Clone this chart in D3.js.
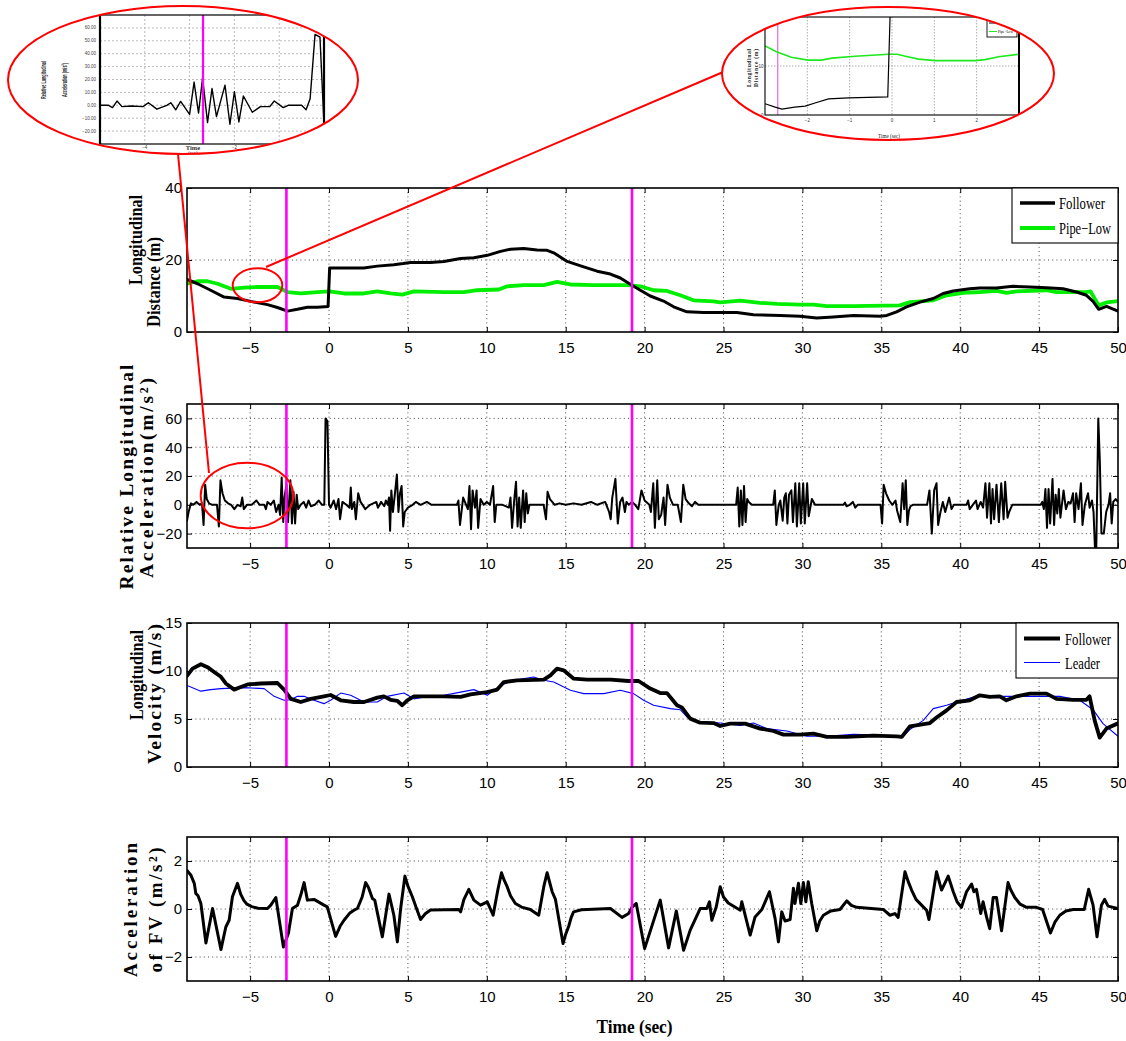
<!DOCTYPE html>
<html><head><meta charset="utf-8">
<script src="https://cdn.jsdelivr.net/npm/d3@7"></script>
<style>body{margin:0;background:#fff}</style>
</head><body>
<script>
// ================= DATA =================
const xTicks = [-5,0,5,10,15,20,25,30,35,40,45,50];
const markerTimes = [-2.7, 19.2];
const distTicks = [0,20,40];
const relTicks = [-20,0,20,40,60];
const velTicks = [0,5,10,15];
const accTicks = [-2,0,2];

const distFollower = [[-9,14.6],[-8.33,13.4],[-7.5,11.6],[-6.65,9.7],[-5.8,9.3],[-4.96,8.5],[-3.9,7.6],[-3.27,6.8],[-2.63,5.8],[-2.0,6.3],[-1.37,6.9],[-0.73,6.9],[-0.06,7.1],[0.04,17.8],[0.95,17.8],[2.2,17.8],[3.06,18.3],[4.11,18.7],[4.7,19.0],[5.17,19.3],[6.43,19.3],[7.28,19.6],[8.34,20.4],[9.18,20.6],[10.03,21.3],[10.87,22.4],[11.5,23.0],[12.34,23.2],[13.19,22.8],[13.82,22.7],[14.24,22.0],[15.09,19.6],[16.14,18.1],[16.99,16.9],[17.83,16.1],[18.46,15.0],[19.2,13.0],[19.73,11.6],[20.36,10.0],[21.2,8.6],[21.84,7.0],[22.68,5.6],[23.73,5.4],[25.85,5.4],[26.9,4.8],[28.59,4.6],[29.85,4.4],[30.91,3.9],[31.96,4.2],[33.23,4.6],[34.92,4.4],[35.35,4.6],[35.97,5.6],[36.6,7.0],[37.45,8.3],[38.29,9.3],[38.92,10.7],[39.56,11.4],[40.6,12.0],[41.24,12.2],[42.3,12.2],[43.35,12.7],[44.41,12.5],[45.47,12.3],[46.52,12.0],[47.37,11.1],[48.0,10.2],[48.42,8.5],[48.78,6.3],[49.27,7.1],[50,5.8]];

const distPipeLow = [[-9,13.4],[-8.33,14.1],[-7.7,14.1],[-7.06,13.4],[-6.22,12.0],[-5.38,12.3],[-4.53,12.5],[-3.27,12.5],[-2.63,11.1],[-1.79,10.7],[-0.73,11.1],[0,11.3],[0.95,10.7],[2.2,10.7],[3.06,11.3],[3.9,10.7],[4.64,10.4],[5.38,11.3],[7.28,11.1],[8.55,11.1],[9.39,11.6],[10.76,11.8],[11.29,12.7],[12.34,13.0],[13.61,13.0],[14.45,13.9],[15.3,13.2],[16.77,13.0],[18.99,13.0],[19.73,12.7],[20.57,11.6],[21.42,11.4],[22.26,10.2],[23.1,8.8],[24.37,8.5],[24.79,8.2],[26.06,8.7],[27.32,8.1],[28.38,7.8],[29.85,7.6],[30.7,7.6],[31.54,7.2],[33.23,7.2],[36.18,7.4],[36.81,8.3],[38.29,8.8],[39.14,10.2],[40.19,10.9],[41.24,11.1],[42.3,11.4],[42.93,10.9],[43.57,11.3],[45.47,11.6],[46.1,11.1],[48.0,11.1],[48.25,11.3],[48.78,7.4],[49.27,8.2],[50,8.6]];

const relAccel = [[-9,-11],[-8.9,-5],[-8.75,1],[-8.6,0],[-8.4,2],[-8.2,0],[-8.05,1],[-7.95,-14],[-7.85,14],[-7.75,4],[-7.6,1],[-7.4,0],[-7.1,0],[-6.98,-15],[-6.88,17],[-6.75,8],[-6.6,3],[-6.4,1],[-6.2,0],[-6.0,-3],[-5.8,0],[-5.6,-1],[-5.5,5],[-5.4,-3],[-5.2,0],[-4.9,0],[-4.6,3],[-4.4,0],[-4.1,0],[-4.0,-3],[-3.9,2],[-3.7,0],[-3.5,3],[-3.35,-5],[-3.2,0],[-3.1,-7],[-3.0,19],[-2.9,-12],[-2.82,5],[-2.7,14],[-2.6,-12],[-2.45,17],[-2.35,-13],[-2.25,9],[-2.15,-13],[-2.05,7],[-1.95,-3],[-1.8,0],[-1.6,2],[-1.45,-2],[-1.3,3],[-1.15,-1],[-0.9,0],[-0.65,3],[-0.45,0],[-0.3,0],[-0.22,60],[-0.1,58],[0.0,0],[0.1,-2],[0.3,3],[0.45,-3],[0.6,4],[0.7,-10],[0.85,2],[1.1,0],[1.3,-2],[1.38,12],[1.45,-3],[1.6,2],[1.7,-10],[1.85,8],[2.0,2],[2.3,-3],[2.6,0],[3.0,2],[3.1,-2],[3.3,2],[3.5,-1],[3.6,3],[3.72,0],[3.8,5],[3.87,-18],[3.95,10],[4.05,-5],[4.15,5],[4.3,21],[4.4,-5],[4.5,8],[4.6,13],[4.7,-15],[4.8,-5],[5.0,-2],[5.3,0],[5.5,2],[5.8,0],[6.2,2],[6.5,0],[8.1,0],[8.2,3],[8.3,-14],[8.5,5],[8.8,-3],[8.9,13],[9.0,-17],[9.1,10],[9.25,-2],[9.35,10],[9.45,-16],[9.6,4],[9.8,0],[10.0,2],[10.2,0],[10.4,13],[10.5,-12],[10.6,0],[11.0,0],[11.4,-2],[11.5,5],[11.6,-16],[11.75,5],[11.85,16],[11.95,-15],[12.05,5],[12.15,-16],[12.3,10],[12.4,-12],[12.5,8],[12.6,-6],[12.7,0],[13.6,0],[13.75,-10],[13.85,9],[14.0,4],[14.3,0],[14.6,1],[15.0,0],[15.5,1],[16.0,0],[16.6,2],[17.0,0],[17.5,2],[17.75,-5],[17.85,-10],[17.95,5],[18.15,18],[18.3,-13],[18.45,2],[18.6,5],[18.75,-5],[18.85,2],[19.0,0],[19.2,2],[19.4,0],[19.6,-3],[19.8,10],[20.0,3],[20.3,0],[20.4,-5],[20.55,15],[20.65,-16],[20.8,17],[20.9,-10],[21.05,-7],[21.2,5],[21.3,-14],[21.45,14],[21.6,5],[21.8,0],[22.1,0],[22.3,-12],[22.45,14],[22.6,4],[22.8,1],[23.0,-1],[23.2,2],[23.4,0],[25.8,0],[25.9,12],[26.0,-15],[26.1,10],[26.2,-14],[26.3,13],[26.4,-12],[26.5,4],[26.6,2],[26.8,0],[28.15,0],[28.25,10],[28.35,-14],[28.5,0],[28.6,3],[28.75,-11],[28.85,5],[28.95,8],[29.05,-13],[29.15,7],[29.3,10],[29.4,-12],[29.55,15],[29.65,-15],[29.8,15],[29.9,-13],[30.05,15],[30.15,-13],[30.3,15],[30.4,-8],[30.6,4],[30.8,0],[32.6,0],[32.7,1.5],[32.8,-1],[33.0,0],[33.2,2],[33.35,-2],[33.5,0],[34.95,0],[35.05,-13],[35.15,14],[35.3,8],[35.5,3],[35.7,0],[35.9,3],[36.0,-4],[36.2,-12],[36.35,15],[36.45,-3],[36.55,17],[36.65,-14],[36.75,-4],[36.85,-1],[37.0,0],[37.9,0],[38.05,10],[38.2,-20],[38.35,10],[38.5,15],[38.6,-14],[38.75,-5],[38.9,2],[39.05,-5],[39.3,5],[39.45,-3],[39.6,0],[40.4,0],[40.5,3],[40.6,-3],[40.8,0],[41.0,3],[41.1,-3],[41.3,2],[41.45,-2],[41.6,15],[41.7,-9],[41.85,15],[41.95,-13],[42.05,11],[42.15,-10],[42.3,14],[42.45,-12],[42.6,15],[42.75,-10],[42.85,16],[43.0,-9],[43.1,-5],[43.3,0],[45.1,0],[45.2,2],[45.3,-3],[45.4,11],[45.5,-16],[45.6,11],[45.7,-13],[45.85,18],[45.95,-14],[46.05,7],[46.15,-6],[46.25,11],[46.35,-9],[46.55,10],[46.7,-3],[46.85,2],[47.0,1],[47.15,8],[47.25,-12],[47.35,8],[47.5,-3],[47.65,15],[47.75,-14],[47.9,0],[48.1,8],[48.2,-2],[48.35,3],[48.45,-5],[48.55,-33],[48.62,-33],[48.75,60],[48.85,30],[48.95,-20],[49.1,-20],[49.25,-5],[49.4,0],[49.5,8],[49.6,-13],[49.7,2],[49.85,4],[50,2]];

const velFollower = [[-9,9.5],[-8.65,10.25],[-8.12,10.7],[-7.7,10.4],[-7.28,9.9],[-6.85,9.4],[-6.54,8.7],[-6.01,8.06],[-5.59,8.33],[-5.16,8.6],[-4.32,8.7],[-3.27,8.75],[-2.85,8.06],[-2.42,7.1],[-1.79,6.77],[-1.16,7.1],[-0.32,7.36],[0.1,7.5],[0.74,6.95],[1.58,6.77],[2.22,6.77],[3.06,7.23],[3.48,7.36],[3.9,7.0],[4.32,6.9],[4.64,6.43],[4.96,6.95],[5.38,7.36],[6.43,7.36],[7.28,7.36],[8.34,7.3],[8.97,7.57],[10.03,7.8],[10.66,8.06],[11.08,8.85],[11.92,9.03],[13.61,9.1],[14.03,9.55],[14.45,10.25],[14.87,10.07],[15.51,9.2],[16.35,9.1],[17.83,9.1],[18.99,8.96],[19.62,8.96],[20.36,8.17],[20.99,7.7],[21.42,7.7],[22.05,6.43],[22.36,6.2],[22.89,5.04],[23.52,4.62],[24.37,4.58],[24.79,4.27],[25.42,4.52],[26.37,4.52],[27.32,4.0],[28.16,3.75],[28.8,3.37],[29.85,3.37],[30.7,3.48],[31.54,3.13],[32.81,3.13],[34.49,3.27],[35.97,3.2],[36.3,3.13],[36.81,4.24],[38.08,4.58],[38.5,5.15],[39.14,5.9],[39.77,6.77],[40.61,6.95],[41.24,7.47],[41.88,7.3],[42.51,7.36],[42.93,6.95],[43.57,7.36],[44.41,7.64],[45.47,7.64],[46.1,7.1],[47.16,7.0],[48.0,7.0],[48.2,7.36],[48.52,4.86],[48.84,3.06],[49.27,4.0],[50,4.55]];

const velLeader = [[-9,8.5],[-8.12,7.9],[-7.49,8.06],[-6.85,8.16],[-5.38,8.27],[-4.11,8.16],[-3.48,7.36],[-2.85,6.95],[-2.42,7.0],[-2.0,7.36],[-1.58,7.36],[-0.95,6.95],[-0.32,6.6],[0.1,6.95],[0.74,7.7],[1.37,7.47],[2.22,6.77],[3.06,6.77],[3.69,7.36],[4.75,7.7],[5.38,7.1],[6.22,7.36],[7.28,7.47],[8.34,7.8],[9.18,8.06],[10.03,7.47],[10.87,8.5],[11.71,9.03],[12.97,9.38],[13.61,9.03],[14.24,8.85],[15.3,7.99],[16.14,7.64],[17.41,7.64],[18.46,7.99],[19.3,7.64],[19.94,6.95],[20.57,6.43],[21.63,6.08],[22.26,5.97],[22.68,5.21],[23.32,4.69],[24.79,4.58],[26.06,4.34],[26.9,4.58],[27.74,4.0],[29.01,3.75],[30.28,3.2],[31.54,3.2],[33.23,3.4],[34.92,3.34],[36.3,3.06],[36.81,3.9],[37.66,4.86],[38.29,6.08],[39.14,6.43],[39.77,6.77],[41.24,7.47],[42.72,7.36],[43.78,7.36],[45.47,7.36],[46.31,7.36],[47.58,6.95],[48.42,5.97],[49.05,4.52],[50,3.2]];

const accelFV = [[-9,1.6],[-8.76,1.42],[-8.54,1.07],[-8.44,0.65],[-8.3,0.55],[-8.12,0.23],[-7.8,-1.42],[-7.38,0.02],[-6.85,-1.69],[-6.54,-0.75],[-6.33,-0.47],[-6.12,0.51],[-5.8,1.07],[-5.6,0.62],[-5.4,0.36],[-5.2,0.2],[-4.9,0.1],[-4.5,0.03],[-3.9,0.02],[-3.69,0.16],[-3.37,0.48],[-2.89,-1.58],[-2.57,-1.0],[-2.32,0.02],[-2.0,0.16],[-1.79,0.58],[-1.58,1.1],[-1.37,0.37],[-0.95,0.4],[-0.32,0.16],[-0.11,0.09],[0.42,-1.14],[0.7,-0.72],[0.95,-0.47],[1.3,-0.18],[1.58,-0.05],[1.8,0.02],[2.1,0.5],[2.32,1.1],[2.5,0.9],[2.75,0.44],[2.9,0.37],[3.38,-1.16],[3.8,0.62],[4.11,-0.26],[4.33,-1.37],[4.54,0.02],[4.81,1.37],[5.0,0.95],[5.28,0.51],[5.5,0.1],[5.8,-0.44],[6.1,-0.2],[6.43,-0.04],[8.23,-0.02],[8.34,-0.12],[8.55,0.4],[8.86,0.82],[9.18,0.37],[9.6,0.16],[10.03,0.3],[10.4,-0.26],[10.7,0.8],[10.93,1.51],[11.1,1.2],[11.29,0.93],[11.5,0.55],[11.81,0.23],[12.2,0.08],[12.76,-0.02],[13.29,-0.26],[13.61,0.93],[13.82,1.51],[14.14,0.72],[14.35,0.4],[14.83,-1.44],[15.0,-1.05],[15.19,-0.72],[15.35,-0.35],[15.5,-0.12],[16.0,-0.03],[17.83,0.02],[18.57,-0.35],[18.99,-0.19],[19.2,0.07],[19.47,0.23],[20.0,-1.65],[20.99,0.37],[21.52,-1.62],[22.01,-0.08],[22.47,-1.72],[22.89,-0.88],[23.52,0.02],[23.94,0.02],[24.11,0.3],[24.26,-0.47],[24.54,0.09],[24.79,0.93],[25.0,0.5],[25.3,0.25],[25.8,0.05],[26.06,-0.05],[26.16,0.3],[26.69,-1.09],[27.0,-0.33],[27.43,-0.02],[27.64,0.3],[27.91,0.72],[28.27,-0.4],[28.48,-1.37],[28.69,-0.12],[28.9,-0.5],[29.22,-0.44],[29.43,0.86],[29.53,0.23],[29.75,1.07],[29.9,0.23],[30.06,1.1],[30.22,0.3],[30.37,1.14],[30.59,0.23],[30.91,-0.91],[31.1,-0.5],[31.33,-0.26],[31.8,-0.08],[32.38,-0.02],[32.81,0.34],[33.1,0.15],[33.44,0.07],[35.12,-0.02],[35.55,-0.26],[35.86,-0.19],[36.07,-0.35],[36.5,1.55],[36.7,1.15],[36.92,0.79],[37.2,0.4],[37.55,0.16],[37.87,-0.05],[38.02,-0.44],[38.5,1.55],[38.82,0.79],[39.24,1.37],[39.56,0.72],[39.8,0.3],[40.08,0.07],[40.4,0.72],[40.72,1.04],[40.87,0.72],[41.03,0.82],[41.3,-0.19],[41.45,0.3],[41.67,-0.33],[41.87,-0.82],[42.09,0.48],[42.3,0.48],[42.62,-0.91],[43.03,1.1],[43.2,0.8],[43.46,0.48],[43.8,0.2],[44.2,0.07],[44.83,0.07],[45.22,-0.02],[45.72,-1.0],[46.0,-0.55],[46.31,-0.26],[46.7,-0.08],[47.16,-0.02],[47.86,-0.02],[48.14,0.82],[48.42,0.16],[48.67,-1.16],[48.95,0.16],[49.15,0.4],[49.37,0.12],[50,0.02]];

// zoomed insets
const insetAccel = [[-5,0],[-4.81,0],[-4.72,-1.8],[-4.62,3.3],[-4.51,-1],[-4.3,-0.5],[-4.04,-1],[-3.92,2],[-3.73,-3],[-3.51,0],[-3.42,2],[-3.31,-3.5],[-3.2,3],[-3.0,-7],[-2.9,18],[-2.8,-6],[-2.71,21.5],[-2.6,-13.4],[-2.5,13],[-2.4,-8.7],[-2.21,15.6],[-2.1,-14.7],[-2.0,10.5],[-1.9,-12.9],[-1.8,7.2],[-1.6,-5.4],[-1.42,-1],[-1.21,-1],[-1.11,3.3],[-0.91,-1.8],[-0.8,0],[-0.5,0],[-0.4,-3.5],[-0.31,5],[-0.2,55],[-0.09,52.8],[0.0,-15]];
const insetAccelYTicks = [-20,-10,0,10,20,30,40,50,60];
const insetAccelXTicks = [-4,-3,-2,-1];
const insetAccelXLabels = [-4,-2];
const insetDistFollower = [[-3,2.3],[-2.76,1.6],[-2.6,1.2],[-2.3,1.6],[-2.05,1.8],[-1.8,2.5],[-1.5,3.3],[-1.03,3.5],[-0.1,3.7],[-0.03,25]];
const insetDistPipeLow = [[-3,14.1],[-2.73,12.9],[-2.38,11.8],[-1.99,11.2],[-1.67,11.2],[-1.42,11.6],[-0.87,12.0],[-0.08,12.4],[0.12,12.4],[0.32,12.0],[0.63,11.4],[1.03,11.1],[1.97,11.1],[2.2,11.3],[2.52,11.9],[3.0,12.4]];
const insetDistXTicks = [-2,-1,0,1,2];
const insetDistYTicks = [0,10];

// ================= DRAW =================
const W=1126,H=1041;
const svg=d3.select("body").append("svg").attr("width",W).attr("height",H).style("display","block");
const defs=svg.append("defs");
const X0=187,X1=1118,PH=144;
const x=d3.scaleLinear().domain([-9,50]).range([X0,X1]);
const serif="'Liberation Serif','Times New Roman',Times,serif";
const narrow="'Liberation Sans Narrow','Arial Narrow','Liberation Sans',Arial,sans-serif";
const fmtInt=d3.format("d");
const line=(sx,sy)=>d3.line().x(d=>sx(d[0])).y(d=>sy(d[1]));

function rotText(g,str,bx,cy,size,len,weight){
  const t=g.append("text").attr("transform",`translate(${bx},${cy}) rotate(-90)`)
    .attr("text-anchor","middle").attr("font-family",serif).attr("font-weight",weight||"bold")
    .attr("font-size",size).text(str);
  if(len){
    const L=t.node().getComputedTextLength();
    t.attr("textLength",len).attr("lengthAdjust", len>L ? "spacing" : "spacingAndGlyphs");
  }
  return t;
}
function fitText(t,len){
  t.attr("textLength",len).attr("lengthAdjust","spacingAndGlyphs");
  return t;
}

function panel(i,top,domain,yTicks,series,titles,legend){
  const y=d3.scaleLinear().domain(domain).range([top+PH,top]);
  const g=svg.append("g");
  const cid="clip"+i;
  defs.append("clipPath").attr("id",cid).append("rect").attr("x",X0).attr("y",top).attr("width",X1-X0).attr("height",PH);
  const grid=g.append("g").attr("stroke","#333").attr("stroke-width",0.9).attr("stroke-dasharray","1,3.2");
  grid.selectAll("line.v").data(xTicks.filter(t=>t>-9&&t<50)).join("line").attr("class","v")
    .attr("x1",d=>x(d)).attr("x2",d=>x(d)).attr("y1",top).attr("y2",top+PH);
  grid.selectAll("line.h").data(yTicks.filter(t=>t>domain[0]&&t<domain[1])).join("line").attr("class","h")
    .attr("x1",X0).attr("x2",X1).attr("y1",d=>y(d)).attr("y2",d=>y(d));
  const sg=g.append("g").attr("clip-path",`url(#${cid})`);
  series.forEach(s=>{
    sg.append("path").datum(s.data).attr("fill","none").attr("stroke",s.color).attr("stroke-width",s.w)
      .attr("stroke-linejoin","round").attr("stroke-linecap","round").attr("d",line(x,y));
  });
  g.selectAll("line.mk").data(markerTimes).join("line").attr("class","mk")
    .attr("x1",d=>x(d)).attr("x2",d=>x(d)).attr("y1",top).attr("y2",top+PH)
    .attr("stroke","#ff00ff").attr("stroke-width",2.6);
  // axes (MATLAB style: inward ticks on all four sides)
  g.append("g").attr("transform",`translate(0,${top+PH})`).call(d3.axisBottom(x).tickValues(xTicks).tickSize(-5).tickPadding(10).tickFormat(fmtInt));
  g.append("g").attr("transform",`translate(0,${top})`).call(d3.axisTop(x).tickValues(xTicks).tickSize(-5).tickFormat(()=>""));
  g.append("g").attr("transform",`translate(${X0},0)`).call(d3.axisLeft(y).tickValues(yTicks).tickSize(-5).tickPadding(5).tickFormat(fmtInt));
  g.append("g").attr("transform",`translate(${X1},0)`).call(d3.axisRight(y).tickValues(yTicks).tickSize(-5).tickFormat(()=>""));
  g.selectAll(".domain").remove();
  g.selectAll(".tick line").attr("stroke","#000").attr("stroke-width",1);
  g.selectAll(".tick text").attr("font-family",narrow).attr("font-size",15).attr("fill","#000");
  g.append("rect").attr("x",X0).attr("y",top).attr("width",X1-X0).attr("height",PH)
    .attr("fill","none").attr("stroke","#000").attr("stroke-width",1.6);
  titles.forEach(tt=>rotText(g,tt.s,tt.bx,tt.cy,tt.size,tt.len));
  if(legend){
    const lg=g.append("g");
    lg.append("rect").attr("x",legend.x0).attr("y",top).attr("width",X1-legend.x0).attr("height",legend.h)
      .attr("fill","#fff").attr("stroke","#000").attr("stroke-width",1.1);
    legend.items.forEach(it=>{
      lg.append("line").attr("x1",legend.lx0).attr("x2",legend.lx1).attr("y1",top+it.dy).attr("y2",top+it.dy)
        .attr("stroke",it.color).attr("stroke-width",it.w);
      fitText(lg.append("text").attr("x",legend.tx).attr("y",top+it.dy+6).attr("font-family",serif)
        .attr("font-size",16).text(it.label), it.len);
    });
  }
  return y;
}

panel(1,188,[0,40],distTicks,
  [{data:distPipeLow,color:"#00ee00",w:3.8},{data:distFollower,color:"#000",w:3}],
  [{s:"Longitudinal",bx:142,cy:240,size:19.5,len:90},{s:"Distance (m)",bx:160,cy:282,size:19.5,len:90}],
  {x0:1012,h:55,lx0:1020,lx1:1055,tx:1059,items:[
    {label:"Follower",dy:15,color:"#000",w:3.5,len:46},
    {label:"Pipe\u2212Low",dy:40,color:"#00ee00",w:3.8,len:52}]});

panel(2,404,[-30,70],relTicks,
  [{data:relAccel,color:"#000",w:2}],
  [{s:"Relative Longitudinal",bx:133,cy:477,size:19.5,len:225},{s:"Acceleration(m/s\u00b2)",bx:153,cy:478,size:19.5,len:200}],
  null);

panel(3,623,[0,15],velTicks,
  [{data:velLeader,color:"#0000ff",w:1.1},{data:velFollower,color:"#000",w:3.8}],
  [{s:"Longitudinal",bx:143,cy:675,size:19.5,len:90},{s:"Velocity (m/s)",bx:161,cy:694,size:19.5,len:140}],
  {x0:1016,h:55,lx0:1024,lx1:1060,tx:1065,items:[
    {label:"Follower",dy:15.5,color:"#000",w:4,len:46},
    {label:"Leader",dy:39.5,color:"#0000ff",w:1.1,len:35}]});

panel(4,837,[-3,3],accTicks,
  [{data:accelFV,color:"#000",w:3}],
  [{s:"Acceleration",bx:137,cy:910,size:19,len:134},{s:"of FV (m/s\u00b2)",bx:161.5,cy:910,size:19,len:125}],
  null);

fitText(svg.append("text").attr("x",634.5).attr("y",1033).attr("text-anchor","middle").attr("font-family",serif)
  .attr("font-weight","bold").attr("font-size",18).text("Time (sec)"),76);

// ---------- inset A (relative acceleration zoom) ----------
defs.append("clipPath").attr("id","ellA").append("ellipse").attr("cx",183).attr("cy",80).attr("rx",175).attr("ry",74);
defs.append("clipPath").attr("id","frA").append("rect").attr("x",100).attr("y",15).attr("width",224).attr("height",129);
const ia=svg.append("g").attr("clip-path","url(#ellA)");
const xa=d3.scaleLinear().domain([-5,0]).range([100,324]);
const ya=d3.scaleLinear().domain([-30,70]).range([144,15]);
const ga=ia.append("g").attr("stroke","#aaa").attr("stroke-width",0.8).attr("stroke-dasharray","2,2");
ga.selectAll("line.v").data(insetAccelXTicks).join("line").attr("class","v").attr("x1",d=>xa(d)).attr("x2",d=>xa(d)).attr("y1",15).attr("y2",144);
ga.selectAll("line.h").data(insetAccelYTicks).join("line").attr("class","h").attr("x1",100).attr("x2",324).attr("y1",d=>ya(d)).attr("y2",d=>ya(d));
ia.selectAll("text.yl").data(insetAccelYTicks).join("text").attr("class","yl").attr("x",96).attr("y",d=>ya(d)+1.5)
  .attr("text-anchor","end").attr("font-family",narrow).attr("font-size",4.5).attr("fill","#444").text(d=>d3.format(".2f")(d));
ia.selectAll("text.xl").data(insetAccelXLabels).join("text").attr("class","xl").attr("x",d=>xa(d)).attr("y",149)
  .attr("text-anchor","middle").attr("font-family",narrow).attr("font-size",4.5).attr("fill","#444").text(d=>fmtInt(d));
ia.append("path").datum(insetAccel).attr("clip-path","url(#frA)").attr("fill","none").attr("stroke","#000").attr("stroke-width",1.4)
  .attr("stroke-linejoin","round").attr("d",line(xa,ya));
ia.append("line").attr("x1",xa(markerTimes[0])).attr("x2",xa(markerTimes[0])).attr("y1",15).attr("y2",144).attr("stroke","#ff00ff").attr("stroke-width",2.2);
ia.append("rect").attr("x",100).attr("y",15).attr("width",224).attr("height",129).attr("fill","none").attr("stroke","#000").attr("stroke-width",1.2);
ia.append("line").attr("x1",100).attr("x2",100).attr("y1",15).attr("y2",144).attr("stroke","#000").attr("stroke-width",2.2);
ia.append("line").attr("x1",324).attr("x2",324).attr("y1",15).attr("y2",144).attr("stroke","#000").attr("stroke-width",2.2);
[["Relative Longitudinal",46,38],["Acceleration (m/s\u00b2)",67,34]].forEach(a=>{
  ia.append("text").attr("transform",`translate(${a[1]},80) rotate(-90)`).attr("text-anchor","middle")
    .attr("font-family",narrow).attr("font-weight","bold").attr("font-size",7.5).attr("fill","#222")
    .attr("textLength",a[2]).attr("lengthAdjust","spacingAndGlyphs").text(a[0]);
});
ia.append("text").attr("x",193).attr("y",149.5).attr("text-anchor","middle").attr("font-family",serif).attr("font-weight","bold").attr("font-size",6.5).attr("fill","#333").text("Time");
ia.append("text").attr("x",193).attr("y",154).attr("text-anchor","middle").attr("font-family",serif).attr("font-size",5).attr("fill","#333").text("(sec)");

// ---------- inset B (distance zoom) ----------
defs.append("clipPath").attr("id","ellB").append("ellipse").attr("cx",888).attr("cy",73.5).attr("rx",166).attr("ry",66.5);
defs.append("clipPath").attr("id","frB").append("rect").attr("x",765).attr("y",17).attr("width",254).attr("height",98);
const ib=svg.append("g").attr("clip-path","url(#ellB)");
const xb=d3.scaleLinear().domain([-3,3]).range([765,1019]);
const yb=d3.scaleLinear().domain([0,20]).range([115,17]);
const gb=ib.append("g").attr("stroke","#999").attr("stroke-width",0.8).attr("stroke-dasharray","1.5,1.5");
gb.selectAll("line.v").data(insetDistXTicks).join("line").attr("class","v").attr("x1",d=>xb(d)).attr("x2",d=>xb(d)).attr("y1",17).attr("y2",115);
gb.selectAll("line.h").data(insetDistYTicks.filter(d=>d>0)).join("line").attr("class","h").attr("x1",765).attr("x2",1019).attr("y1",d=>yb(d)).attr("y2",d=>yb(d));
ib.append("line").attr("x1",xb(markerTimes[0])).attr("x2",xb(markerTimes[0])).attr("y1",17).attr("y2",115).attr("stroke","#e77be7").attr("stroke-width",1.4);
ib.append("path").datum(insetDistPipeLow).attr("clip-path","url(#frB)").attr("fill","none").attr("stroke","#1ee81e").attr("stroke-width",1.6).attr("d",line(xb,yb));
ib.append("path").datum(insetDistFollower).attr("clip-path","url(#frB)").attr("fill","none").attr("stroke","#000").attr("stroke-width",1.2).attr("d",line(xb,yb));
ib.append("rect").attr("x",765).attr("y",17).attr("width",254).attr("height",98).attr("fill","none").attr("stroke","#000").attr("stroke-width",1.1);
ib.append("line").attr("x1",1019).attr("x2",1019).attr("y1",17).attr("y2",115).attr("stroke","#000").attr("stroke-width",2);
ib.selectAll("text.yl").data(insetDistYTicks).join("text").attr("class","yl").attr("x",763.5).attr("y",d=>yb(d)+1.5)
  .attr("text-anchor","end").attr("font-family",narrow).attr("font-size",4.5).attr("fill","#333").text(d=>d);
ib.selectAll("text.xl").data(insetDistXTicks).join("text").attr("class","xl").attr("x",d=>xb(d)).attr("y",121.5)
  .attr("text-anchor","middle").attr("font-family",narrow).attr("font-size",4.5).attr("fill","#333").text(d=>fmtInt(d));
const lgB=ib.append("g");
lgB.append("rect").attr("x",987).attr("y",17).attr("width",30).attr("height",20).attr("fill","#fff").attr("stroke","#000").attr("stroke-width",0.9);
lgB.append("line").attr("x1",989).attr("x2",997).attr("y1",23).attr("y2",23).attr("stroke","#000").attr("stroke-width",1.2);
lgB.append("text").attr("x",998).attr("y",24.5).attr("font-family",serif).attr("font-size",3.6).text("Follower");
lgB.append("line").attr("x1",989).attr("x2",997).attr("y1",31.5).attr("y2",31.5).attr("stroke","#1ee81e").attr("stroke-width",1.2);
lgB.append("text").attr("x",998).attr("y",33).attr("font-family",serif).attr("font-size",3.6).text("Pipe\u2212Low");
[["Longitudinal",751],["Distance (m)",757.5]].forEach(a=>{
  ib.append("text").attr("transform",`translate(${a[1]},68) rotate(-90)`).attr("text-anchor","middle")
    .attr("font-family",serif).attr("font-weight","bold").attr("font-size",5.5).attr("fill","#222")
    .attr("textLength",38).attr("lengthAdjust","spacing").text(a[0]);
});
fitText(ib.append("text").attr("x",889).attr("y",138).attr("text-anchor","middle").attr("font-family",serif)
  .attr("font-size",6).attr("fill","#222").text("Time (sec)"),22);

// ---------- red annotation ----------
const red=svg.append("g").attr("fill","none").attr("stroke","#ff0000").attr("stroke-width",2);
[[183,80,175,74],[888,73.5,166,66.5],[257.5,285.3,24.8,17],[247,495.5,46.3,32.8]].forEach(e=>{
  red.append("ellipse").attr("cx",e[0]).attr("cy",e[1]).attr("rx",e[2]).attr("ry",e[3]);
});
red.append("line").attr("x1",178).attr("y1",154).attr("x2",209).attr("y2",473);
red.append("line").attr("x1",266).attr("y1",267).attr("x2",722).attr("y2",72.5);
</script>
</body></html>
